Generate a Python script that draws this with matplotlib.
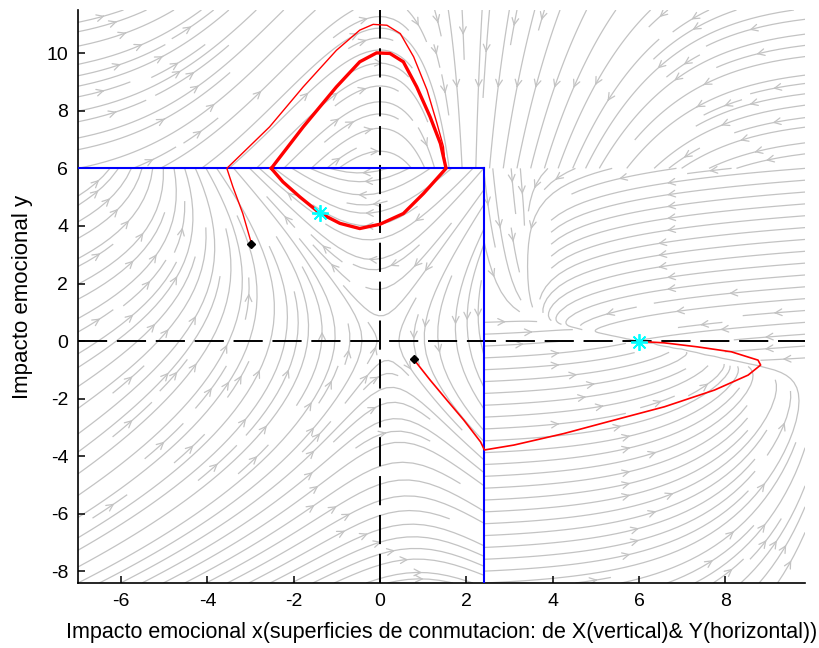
import inspect
import numpy as np
import matplotlib
matplotlib.use("Agg")
import matplotlib.pyplot as plt
from matplotlib import font_manager

plt.rcParams["axes.unicode_minus"] = False

# ---- axis setup -------------------------------------------------------
x_limits = (-7.0, 9.85)
y_limits = (-8.4, 11.5)
x_ticks = [-6, -4, -2, 0, 2, 4, 6, 8]
y_ticks = [-8, -6, -4, -2, 0, 2, 4, 6, 8, 10]

# switching surfaces
x_switch = 2.4      # vertical surface (x = 2.4, for y < 6)
y_switch = 6.0      # horizontal surface (y = 6, for x < 2.4)

# ---- simulated trajectories ------------------------------------------
traj1_x = [-2.98, -3.18, -3.41, -3.55, -2.56, -1.78, -1.01, -0.47, -0.16,
           0.16, 0.47, 0.78, 1.09, 1.32, 1.47, 1.51]
traj1_y = [3.39, 4.43, 5.36, 6.00, 7.44, 8.83, 10.10, 10.80, 11.00,
           10.97, 10.68, 9.87, 8.72, 7.56, 6.75, 6.05]

cycle_x = [-2.52, -1.78, -1.01, -0.47, -0.08, 0.23, 0.54, 0.85, 1.16, 1.40,
           1.53, 1.01, 0.54, 0.00, -0.47, -0.93, -1.40, -1.86, -2.25, -2.52]
cycle_y = [6.00, 7.44, 8.83, 9.70, 10.01, 9.99, 9.70, 8.83, 7.79, 6.86,
           6.00, 5.13, 4.43, 4.06, 3.91, 4.09, 4.45, 5.01, 5.53, 6.00]

traj2_x = [0.78, 1.16, 1.55, 1.94, 2.33, 2.42, 3.10, 4.26, 5.43, 6.59, 7.75,
           8.53, 8.82, 8.76, 8.14, 7.36, 6.59, 6.12, 5.99]
traj2_y = [-0.63, -1.35, -2.05, -2.74, -3.50, -3.78, -3.61, -3.21, -2.74,
           -2.28, -1.70, -1.18, -0.83, -0.66, -0.37, -0.20, -0.06, -0.02, -0.02]

start_x = [-2.98, 0.78]
start_y = [3.39, -0.63]
end_x = [-1.40, 5.99]
end_y = [4.46, -0.02]


# ---- piecewise vector field ------------------------------------------
def field_upper(X, Y):
    sig2 = np.where(X < 0, 11.0, 15.0)
    U = 2.1 - X
    V = -3.6 * X * np.exp(-X**2 / (2 * sig2))
    return U, V


def field_lower_left(X, Y):
    W = X + 0.1 * Y - 0.1
    U = -Y + 0.3 * W**2 / (1.0 + np.exp(-Y / 2.0))
    V = -6.6 * np.tanh(W / 1.5)
    return U, V


def field_right(X, Y):
    u = X - 6.0
    v = Y
    tilt = 0.3
    s = v + tilt * u
    lam_s, lam_f = 0.25, 2.5
    fx = np.where(s > 0, np.clip(3.5 + 1.3 * u, 0, None), 2.5 * np.exp(-0.5 * u))
    U = -lam_s * u - lam_f * s * fx
    V = tilt * lam_s * u - lam_f * s
    return U, V


fig = plt.figure(figsize=(8.19, 6.48), dpi=100)
ax = fig.add_axes([0.0952, 0.1003, 0.8878, 0.8843])

stream_kw = dict(color="#c3c3c3", linewidth=0.9, arrowsize=1.2,
                 arrowstyle="->", zorder=1)
if "num_arrows" in inspect.signature(ax.streamplot).parameters:
    stream_kw["num_arrows"] = 3

regions = [
    (field_upper, x_limits, (y_switch, y_limits[1]), (1.8, 0.6)),
    (field_lower_left, (x_limits[0], x_switch), (y_limits[0], y_switch), (1.3, 1.3)),
    (field_right, (x_switch, x_limits[1]), (y_limits[0], y_switch), (1.2, 1.2)),
]
for func, (x0, x1), (y0, y1), dens in regions:
    gx = np.linspace(x0, x1, 140)
    gy = np.linspace(y0, y1, 140)
    GX, GY = np.meshgrid(gx, gy)
    U, V = func(GX, GY)
    ax.streamplot(gx, gy, U, V, density=dens, **stream_kw)

# coordinate axes
ax.axhline(0, color="black", lw=1.4, dashes=(15, 5), zorder=2)
ax.axvline(0, color="black", lw=1.4, dashes=(15, 5), zorder=2)

# switching surfaces
ax.plot([x_limits[0], x_switch], [y_switch, y_switch], color="#0000ff", lw=1.5, zorder=3)
ax.plot([x_switch, x_switch], [y_limits[0], y_switch], color="#0000ff", lw=1.5, zorder=3)

# trajectories
ax.plot(cycle_x, cycle_y, color="#ff0000", lw=2.4, zorder=4)
ax.plot(traj1_x, traj1_y, color="#ff0000", lw=1.0, zorder=4)
ax.plot(traj2_x, traj2_y, color="#ff0000", lw=1.2, zorder=4)

ax.plot(start_x, start_y, linestyle="none", marker="D", ms=4, color="black", zorder=5)
ax.plot(end_x, end_y, linestyle="none", marker=(8, 2, 0), ms=12, mew=1.3,
        color="#00ffff", zorder=5)

names = {f.name for f in font_manager.fontManager.ttflist}
label_font = ["Liberation Sans Narrow", "Liberation Sans"] if "Liberation Sans Narrow" in names \
    else ["Liberation Sans"]

ax.set_xlim(*x_limits)
ax.set_ylim(*y_limits)
ax.set_xticks(x_ticks)
ax.set_yticks(y_ticks)
for side in ("top", "right"):
    ax.spines[side].set_visible(False)
for side in ("left", "bottom"):
    ax.spines[side].set_linewidth(1.2)
ax.tick_params(direction="in", length=5, width=1.1, labelsize=14, pad=7)
for lab in ax.get_xticklabels() + ax.get_yticklabels():
    lab.set_family(label_font)

ax.set_xlabel("Impacto emocional x(superficies de conmutacion: de X(vertical)& Y(horizontal))",
              fontsize=15.5, family=label_font, labelpad=9)
ax.set_ylabel("Impacto emocional y", fontsize=16, family=label_font, labelpad=10)

fig.savefig("out.png", dpi=100)
